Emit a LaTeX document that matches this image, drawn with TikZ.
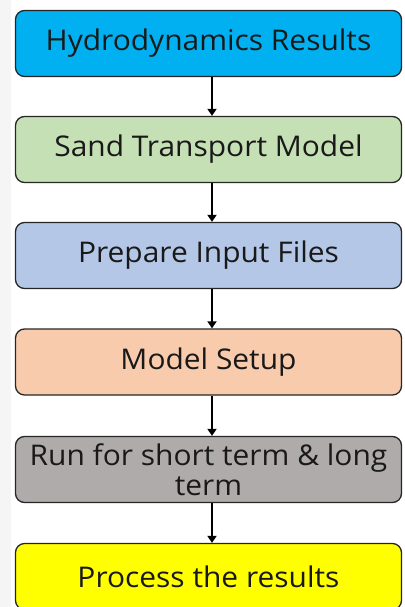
\documentclass[tikz,border=0pt]{standalone}
\usepackage{fontspec}
\setmainfont[FakeStretch=1.05]{Open Sans}
\usetikzlibrary{arrows.meta}

\definecolor{hydroblue}{RGB}{0,176,240}
\definecolor{sandgreen}{RGB}{197,224,180}
\definecolor{inputblue}{RGB}{180,199,231}
\definecolor{setuppeach}{RGB}{248,203,173}
\definecolor{rungrey}{RGB}{175,171,171}
\definecolor{resultyellow}{RGB}{255,255,0}

\begin{document}
\begin{tikzpicture}[x=1pt,y=1pt,
  stage/.style={draw=black!85, line width=1.3pt, rounded corners=9pt,
    minimum width=386pt, minimum height=66pt, inner sep=0pt, align=center,
    font=\fontsize{28.5}{30}\selectfont, text=black!90},
  flow/.style={-{Triangle[width=9pt,length=7pt]}, line width=2pt}]

  \useasboundingbox (0,0) rectangle (404,-607);

  % Page edge
  \fill[black!4] (0,0) rectangle (11,-607);

  % Stages
  \node[stage, fill=hydroblue] (hydro) at (208.5,-43.5) {Hydrodynamics Results};
  \node[stage, fill=sandgreen] (sand) at (208.5,-149.5) {Sand Transport Model};
  \node[stage, fill=inputblue] (input) at (208.5,-255.5) {Prepare Input Files};
  \node[stage, fill=setuppeach] (setup) at (208.5,-362) {Model Setup};
  \node[stage, fill=rungrey] (run) at (208.5,-469.5) {Run for short term \& long\\term};
  \node[stage, fill=resultyellow] (process) at (208.5,-576.5) {Process the results};

  % Arrows (a little right of centre)
  \draw[flow] ([xshift=3.5pt]hydro.south) -- ([xshift=3.5pt]sand.north);
  \draw[flow] ([xshift=3.5pt]sand.south) -- ([xshift=3.5pt]input.north);
  \draw[flow] ([xshift=3.5pt]input.south) -- ([xshift=3.5pt]setup.north);
  \draw[flow] ([xshift=3.5pt]setup.south) -- ([xshift=3.5pt]run.north);
  \draw[flow] ([xshift=3.5pt]run.south) -- ([xshift=3.5pt]process.north);

\end{tikzpicture}
\end{document}
